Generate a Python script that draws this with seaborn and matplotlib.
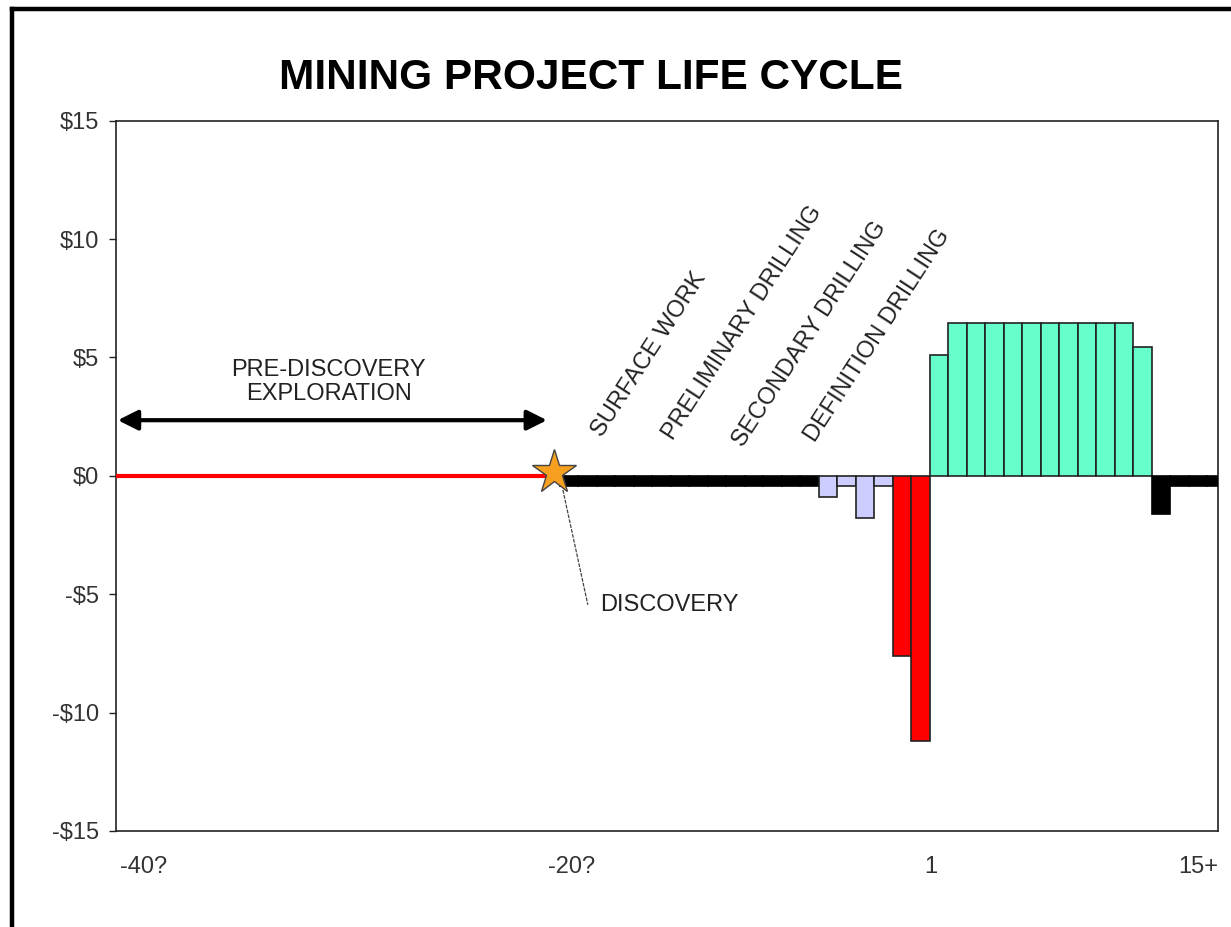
import matplotlib
matplotlib.use("Agg")
import matplotlib.pyplot as plt
from matplotlib.lines import Line2D
from matplotlib.colors import to_rgba
import seaborn as sns
import pandas as pd

# ---------------- data ----------------
years_exploration = list(range(-19, -5))          # pre-development holding costs
vals_exploration = [-0.45] * len(years_exploration)

years_drilling = [-5, -4, -3, -2]
vals_drilling = [-0.9, -0.45, -1.8, -0.45]

years_construction = [-1, 0]
vals_construction = [-7.6, -11.2]

years_production = list(range(1, 13))
vals_production = [5.1, 6.45, 6.45, 6.45, 6.45, 6.45, 6.45, 6.45, 6.45, 6.45, 6.45, 5.45]

years_closure = [13, 14, 15, 16]
vals_closure = [-1.6, -0.45, -0.45, -0.45]

prediscovery_start = -43.5
discovery_year = -19.8

ytick_vals = [-15, -10, -5, 0, 5, 10, 15]
ytick_labels = ["-$15", "-$10", "-$5", "$0", "$5", "$10", "$15"]
xtick_pos = [-42.0, -18.85, 0.55, 15.0]
xtick_labels = ["-40?", "-20?", "1", "15+"]

phase_labels = ["SURFACE WORK", "PRELIMINARY DRILLING", "SECONDARY DRILLING", "DEFINITION DRILLING"]

palette = {"exploration": "#000000", "drilling": "#CCCCFF", "construction": "#FF0000",
           "production": "#66FFCC", "closure": "#000000"}

df = pd.concat([
    pd.DataFrame({"year": years_exploration, "value": vals_exploration, "phase": "exploration"}),
    pd.DataFrame({"year": years_drilling, "value": vals_drilling, "phase": "drilling"}),
    pd.DataFrame({"year": years_construction, "value": vals_construction, "phase": "construction"}),
    pd.DataFrame({"year": years_production, "value": vals_production, "phase": "production"}),
    pd.DataFrame({"year": years_closure, "value": vals_closure, "phase": "closure"}),
], ignore_index=True)

# ---------------- style ----------------
sns.set_theme(style="white")
plt.rcParams["font.family"] = ["Liberation Sans", "DejaVu Sans"]
plt.rcParams["text.color"] = "#222222"

fig = plt.figure(figsize=(12.31, 9.27), dpi=100)
ax = fig.add_axes([0.0942, 0.1036, 0.8952, 0.7662])

sns.barplot(data=df, x="year", y="value", hue="phase", palette=palette, saturation=1,
            native_scale=True, width=1.0, dodge=False, errorbar=None,
            edgecolor="#222222", linewidth=1.2, legend=False, ax=ax, zorder=3)

# black bars: edge in the same colour so they merge into one thick line
for p in ax.patches:
    if to_rgba(p.get_facecolor())[:3] == (0.0, 0.0, 0.0):
        p.set_edgecolor("#000000")

# red pre-discovery line
ax.plot([prediscovery_start, discovery_year], [0, 0], color="#FF0000", lw=3.0,
        solid_capstyle="butt", zorder=4)
# discovery star
ax.plot([discovery_year], [0.15], marker="*", ms=33, mfc="#F79F1F", mec="#444444",
        mew=1.0, ls="none", zorder=6)

# double-headed arrow for pre-discovery exploration
ax.annotate("", xy=(-43.4, 2.35), xytext=(-20.2, 2.35),
            arrowprops=dict(arrowstyle="<|-|>", lw=3, color="black",
                            mutation_scale=30, shrinkA=0, shrinkB=0), zorder=5)
ax.text(-32.0, 3.96, "PRE-DISCOVERY\nEXPLORATION", ha="center", va="center",
        fontsize=17, linespacing=1.1, color="#222222")

# discovery leader
ax.plot([-19.34, -17.99], [-0.6, -5.45], color="#444444", lw=0.9, ls=(0, (3, 1)), zorder=5)
ax.text(-17.35, -5.45, "DISCOVERY", ha="left", va="center", fontsize=17, color="#222222")

# rotated phase labels
label_pos = [(-17.23, 1.6), (-13.39, 1.47), (-9.61, 1.17), (-5.72, 1.38)]
for (lx, ly), lab in zip(label_pos, phase_labels):
    ax.text(lx, ly, lab, rotation=57, rotation_mode="anchor", ha="left", va="baseline",
            fontsize=17, color="#222222")

# axes
ax.set_xlim(-43.5, 16.07)
ax.set_ylim(-15, 15)
ax.set_yticks(ytick_vals)
ax.set_yticklabels(ytick_labels, fontsize=17, color="#333333")
ax.set_xticks(xtick_pos)
ax.set_xticklabels(xtick_labels, fontsize=17, color="#333333")
ax.tick_params(axis="y", left=True, length=5, width=1, color="#222222", pad=7, direction="out")
ax.tick_params(axis="x", bottom=False, length=0, pad=18)
ax.set_xlabel("")
ax.set_ylabel("")
for s in ax.spines.values():
    s.set_visible(True)
    s.set_color("#222222")
    s.set_linewidth(1.2)

fig.text(0.480, 0.916, "MINING PROJECT LIFE CYCLE", ha="center", va="center",
         fontsize=30.5, fontweight="bold", color="#000000")

# outer frame (left and top edges)
fig.add_artist(Line2D([12 / 1231, 12 / 1231], [0, 1 - 9 / 927], transform=fig.transFigure,
                      color="black", lw=3.2, solid_capstyle="projecting"))
fig.add_artist(Line2D([12 / 1231, 1], [1 - 9 / 927, 1 - 9 / 927], transform=fig.transFigure,
                      color="black", lw=3.2, solid_capstyle="projecting"))

fig.savefig("out.png", dpi=100, facecolor="white")
